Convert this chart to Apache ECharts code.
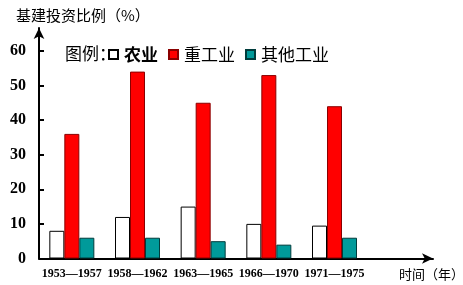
<!DOCTYPE html>
<html><head><meta charset="utf-8">
<script src="https://cdn.jsdelivr.net/npm/echarts@6/dist/echarts.min.js"></script>
<style>html,body{margin:0;padding:0;background:#fff;}#c{width:463px;height:285px;}</style>
</head><body><div id="c"></div>
<script>
var categories = ['1953—1957', '1958—1962', '1963—1965', '1966—1970', '1971—1975'];
var agriculture = [8, 12, 15, 10, 9.5];
var heavyIndustry = [36, 54, 45, 53, 44];
var otherIndustry = [6, 6, 5, 4, 6];
var yTicks = [0, 10, 20, 30, 40, 50, 60];

var cjk = '"Noto Sans CJK SC", sans-serif';
var chart = echarts.init(document.getElementById('c'), null, {renderer: 'canvas'});
chart.setOption({
  animation: false,
  backgroundColor: '#fff',
  title: [
    {text: '基建投资比例（%）', left: 11, top: 3, textStyle: {fontFamily: cjk, fontSize: 15, fontWeight: 'normal', color: '#000'}},
    {text: '图例：', left: 60, top: 40, textStyle: {fontFamily: cjk, fontSize: 17, fontWeight: 'normal', color: '#000'}},
    {text: '时间（年）', left: 394, top: 263, textStyle: {fontFamily: cjk, fontSize: 13, fontWeight: 'normal', color: '#000'}}
  ],
  legend: {
    left: 103, top: 41, itemWidth: 9, itemHeight: 9, itemGap: 10, icon: 'rect',
    textStyle: {fontFamily: cjk, fontSize: 17, color: '#000', padding: [0, 0, 0, 1],
      rich: {b: {fontFamily: cjk, fontSize: 17, fontWeight: 'bold', color: '#000'}}},
    formatter: function (n) { return n === '农业' ? '{b|' + n + '}' : n; },
    data: ['农业', '重工业', '其他工业']
  },
  grid: {left: 39, right: 30, top: 28, bottom: 26.5, containLabel: false},
  xAxis: {
    type: 'category',
    data: categories.concat(['']),
    axisLine: {lineStyle: {color: '#000', width: 2}, symbol: ['none', 'arrow'], symbolSize: [8, 11]},
    axisTick: {inside: true, length: 3, lineStyle: {color: '#000', width: 1.5},
      interval: function (i) { return i >= 1 && i <= 4; }},
    axisLabel: {interval: 0, margin: 9, fontFamily: '"Liberation Serif", serif', fontWeight: 'bold', fontSize: 12, color: '#000'}
  },
  yAxis: {
    type: 'value', min: 0, max: 66.6, interval: 10,
    splitLine: {show: false},
    axisLine: {show: true, lineStyle: {color: '#000', width: 2}, symbol: ['none', 'arrow'], symbolSize: [8, 11]},
    axisTick: {show: true, inside: true, length: 5, lineStyle: {color: '#000', width: 2}},
    axisLabel: {showMaxLabel: false, margin: 13, fontFamily: '"Liberation Serif", serif', fontWeight: 'bold', fontSize: 16, color: '#000',
      formatter: function (v) { return yTicks.indexOf(v) >= 0 ? String(v) : ''; }}
  },
  series: [
    {name: '农业', type: 'bar', barWidth: 15, barGap: '0%', data: agriculture,
      itemStyle: {color: '#ffffff', borderColor: '#000', borderWidth: 1}},
    {name: '重工业', type: 'bar', barWidth: 15, barGap: '0%', data: heavyIndustry,
      itemStyle: {color: '#ff0000', borderColor: '#8a0000', borderWidth: 1}},
    {name: '其他工业', type: 'bar', barWidth: 15, barGap: '0%', data: otherIndustry,
      itemStyle: {color: '#009a9a', borderColor: '#003c3c', borderWidth: 1}}
  ]
});
</script></body></html>
